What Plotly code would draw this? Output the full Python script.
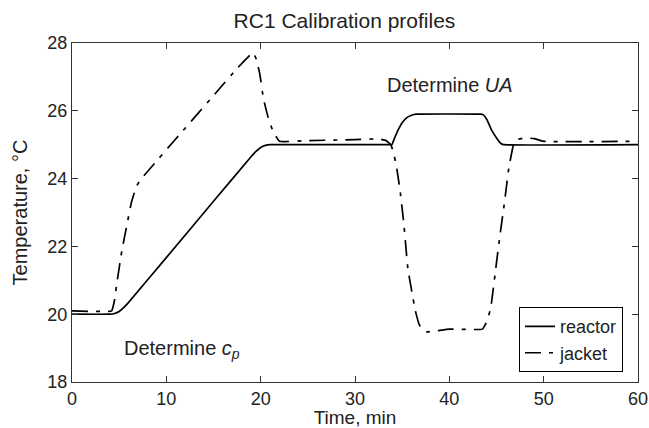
import plotly.graph_objects as go

reactor_t = [0, 4.0, 4.5, 5.0, 5.5, 6, 10, 15, 19.0, 19.5, 20.0, 20.5, 21.0, 21.5,
             33.6, 33.9, 34.2, 34.6, 35.0, 35.5, 36.0, 36.5, 43.3, 43.6, 44.0, 44.5,
             45.0, 45.5, 45.8, 60]
reactor_T = [20, 20, 20.02, 20.08, 20.2, 20.35, 21.67, 23.33, 24.65, 24.8, 24.92, 24.98,
             25.0, 25.0, 25.0, 25.0, 25.2, 25.45, 25.65, 25.8, 25.87, 25.9, 25.9, 25.88,
             25.73, 25.42, 25.2, 25.03, 25.0, 25.0]

jacket_t = [0, 4.2, 4.5, 4.8, 5.3, 5.8, 6.3, 6.8, 7.2, 7.6, 9, 12, 15, 17.5, 18.9, 19.2,
            19.5, 19.9, 20.3, 20.8, 21.3, 22, 25, 30, 32.5, 33.3, 33.8, 34.1, 34.4, 34.8,
            35.2, 35.6, 36.0, 36.4, 36.8, 37.2, 37.6, 40, 43.5, 44.0, 44.4, 44.9, 45.4,
            45.8, 46.3, 46.8, 47.2, 48, 49, 50, 60]
jacket_T = [20.1, 20.1, 20.4, 21.0, 21.9, 22.6, 23.3, 23.75, 23.95, 24.08, 24.53, 25.49,
            26.45, 27.25, 27.65, 27.72, 27.55, 27.1, 26.35, 25.8, 25.4, 25.1, 25.12, 25.15,
            25.17, 25.12, 25.0, 24.75, 24.35, 23.6, 22.6, 21.35, 20.7, 20.1, 19.7, 19.52,
            19.48, 19.56, 19.56, 19.8, 20.2, 21.3, 22.4, 23.2, 24.3, 25.0, 25.15, 25.2,
            25.18, 25.1, 25.1]

x_ticks = [0, 10, 20, 30, 40, 50, 60]
y_ticks = [18, 20, 22, 24, 26, 28]

FONT = "Liberation Sans, Arial, sans-serif"
TXT = "#222"

fig = go.Figure()
fig.add_trace(go.Scatter(x=reactor_t, y=reactor_T, mode="lines", name="reactor",
                         line=dict(color="black", width=1.7, shape="spline", smoothing=0.3)))
fig.add_trace(go.Scatter(x=jacket_t, y=jacket_T, mode="lines", name="jacket",
                         line=dict(color="black", width=1.7, dash="16px,8px,4px,8px",
                                   shape="spline", smoothing=0.3)))

fig.add_annotation(x=5.3, y=18.95, text="Determine <i>c</i><sub><i>p</i></sub>",
                   showarrow=False, xanchor="left", yanchor="middle",
                   font=dict(size=20, color=TXT, family=FONT))
fig.add_annotation(x=33.2, y=26.75, text="Determine <i>UA</i>",
                   showarrow=False, xanchor="left", yanchor="middle",
                   font=dict(size=20, color=TXT, family=FONT))

axis_common = dict(showline=True, linecolor="#333", linewidth=1.2, mirror="ticks",
                   ticks="inside", ticklen=6, tickcolor="#333", tickwidth=1,
                   showgrid=False, zeroline=False, automargin=False,
                   tickfont=dict(size=18, color=TXT, family=FONT))

fig.update_layout(
    width=649, height=428,
    margin=dict(l=72, r=11, t=43, b=46),
    paper_bgcolor="white", plot_bgcolor="white",
    font=dict(family=FONT, color=TXT),
    title=dict(text="RC1 Calibration profiles", x=344.5 / 649, xref="container",
               xanchor="center", y=1 - 21 / 428, yref="container", yanchor="middle",
               font=dict(size=21, color=TXT, family=FONT)),
    xaxis=dict(range=[0, 60], tickvals=x_ticks,
               title=dict(text="Time, min", standoff=3, font=dict(size=19, family=FONT, color=TXT)),
               **axis_common),
    yaxis=dict(range=[18, 28], tickvals=y_ticks,
               title=dict(text="Temperature, °C", standoff=14, font=dict(size=20, family=FONT, color=TXT)),
               **axis_common),
    legend=dict(x=0.9735, y=0.125, xanchor="right", yanchor="middle",
                bgcolor="white", bordercolor="black", borderwidth=1,
                font=dict(size=18, color=TXT, family=FONT),
                tracegroupgap=0, itemwidth=30),
    showlegend=True,
)

fig.write_html("out.html")
